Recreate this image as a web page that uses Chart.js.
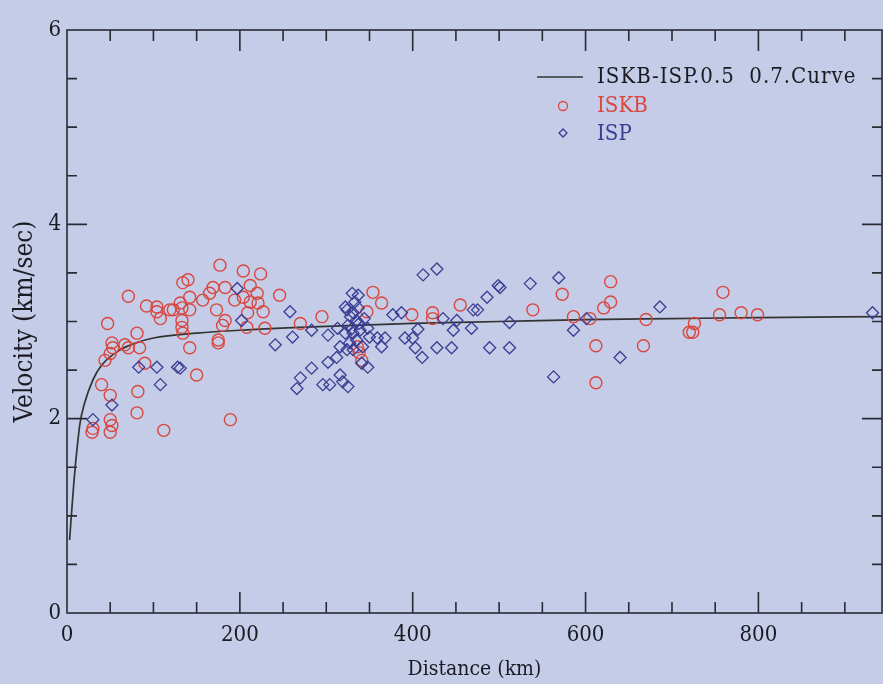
<!DOCTYPE html>
<html>
<head>
<meta charset="utf-8">
<script src="https://cdn.jsdelivr.net/npm/chart.js@4.4.0/dist/chart.umd.min.js"></script>
<style>
  html, body { margin: 0; padding: 0; background: #c5cce7; }
  #wrap { width: 883px; height: 684px; }
</style>
</head>
<body>
<div id="wrap"><canvas id="chart" width="883" height="684"></canvas></div>
<script>
// Velocity vs distance

// fitted curve (km, km/sec)
const curveDist = [3, 5, 8, 10, 15, 20, 30, 40, 60, 80, 100, 150, 200, 300, 400, 500, 600, 700, 800, 943];
const curveVel  = [0.75, 1.0, 1.35, 1.55, 1.95, 2.15, 2.4, 2.55, 2.7, 2.78, 2.83, 2.88, 2.91, 2.95, 2.98, 3.0, 3.02, 3.03, 3.04, 3.05];

// ISKB stations (red circles)
const iskbDist = [71, 47, 52, 53, 44, 50, 67, 81, 84, 90, 71, 40, 50, 82, 81, 50, 52, 30, 29, 50,
  112, 92, 104, 108, 104, 123, 177, 204, 224, 134, 140, 142, 131, 133, 133, 133, 134, 142, 142, 157,
  165, 169, 183, 173, 183, 180, 175, 175, 194, 204, 212, 212, 220, 209, 208, 227, 229, 246, 150, 189,
  119, 221, 270, 295, 354, 364, 347, 341, 336, 338, 399, 423, 423, 455, 539, 573, 586, 605, 629, 629,
  621, 612, 612, 670, 667, 720, 726, 724, 759, 755, 780, 799];
const iskbVel = [3.26, 2.98, 2.78, 2.73, 2.60, 2.67, 2.76, 2.88, 2.73, 2.57, 2.73, 2.35, 2.24, 2.28, 2.06, 1.99, 1.93, 1.90, 1.86, 1.86,
  1.88, 3.16, 3.15, 3.03, 3.10, 3.12, 3.58, 3.52, 3.49, 3.40, 3.43, 3.25, 3.19, 3.14, 3.01, 2.94, 2.88, 2.73, 3.12, 3.22,
  3.29, 3.35, 3.35, 3.12, 3.01, 2.96, 2.81, 2.78, 3.22, 3.25, 3.37, 3.20, 3.29, 3.09, 2.94, 3.10, 2.93, 3.27, 2.45, 1.99,
  3.12, 3.19, 2.98, 3.05, 3.30, 3.19, 3.10, 2.60, 2.74, 2.68, 3.07, 3.09, 3.03, 3.17, 3.12, 3.28, 3.05, 3.03, 3.41, 3.20,
  3.14, 2.75, 2.37, 3.02, 2.75, 2.89, 2.98, 2.89, 3.30, 3.07, 3.09, 3.07];

// ISP stations (blue diamonds)
const ispDist = [83, 104, 108, 128, 52, 30, 131, 197, 202, 241, 258, 261, 283, 283, 270, 266, 296, 304, 302, 302,
  312, 316, 319, 325, 330, 337, 324, 331, 335, 325, 322, 331, 335, 327, 331, 324, 339, 313, 316, 342,
  348, 350, 348, 341, 359, 337, 322, 368, 364, 377, 387, 391, 400, 406, 403, 411, 412, 428, 428, 445,
  447, 451, 470, 468, 486, 489, 499, 435, 475, 501, 536, 569, 512, 512, 586, 601, 640, 563, 686, 932,
  333, 328, 338, 329, 344];
const ispVel = [2.53, 2.53, 2.35, 2.53, 2.14, 1.99, 2.52, 3.34, 3.01, 2.76, 3.10, 2.84, 2.91, 2.52, 2.42, 2.31, 2.35, 2.35, 2.58, 2.86,
  2.63, 2.45, 2.38, 2.33, 3.29, 3.27, 3.12, 3.09, 3.01, 2.96, 2.88, 2.88, 2.81, 2.78, 2.71, 2.71, 2.91, 2.93, 2.74, 2.74,
  2.93, 2.84, 2.53, 2.57, 2.83, 3.14, 3.15, 2.83, 2.74, 3.07, 3.09, 2.83, 2.83, 2.92, 2.73, 2.63, 3.48, 3.54, 2.73, 2.73,
  2.91, 3.01, 3.12, 2.93, 3.25, 2.73, 3.37, 3.03, 3.12, 3.35, 3.39, 3.45, 2.73, 2.99, 2.91, 3.03, 2.63, 2.43, 3.15, 3.09,
  3.20, 3.05, 2.98, 2.92, 3.03];

const legendLabels = ['ISKB-ISP.0.5  0.7.Curve', 'ISKB', 'ISP'];

const bgColor = '#c5cce7';
const axisColor = '#2a2a34';
const redColor = '#d9473f';
const blueColor = '#3a3d94';
const textColor = '#1a1a22';
const fontFamily = '"DejaVu Serif Condensed", "DejaVu Serif", serif';

const toPoints = (xs, ys) => xs.map((x, i) => ({ x: x, y: ys[i] }));

// paper background
const backgroundPlugin = {
  id: 'paper',
  beforeDraw(chart) {
    const ctx = chart.ctx;
    ctx.save();
    ctx.fillStyle = bgColor;
    ctx.fillRect(0, 0, chart.width, chart.height);
    ctx.restore();
  }
};

// frame with inward ticks on all four sides, plus the legend box
const framePlugin = {
  id: 'frame',
  afterDraw(chart) {
    const ctx = chart.ctx;
    const area = chart.chartArea;
    const xs = chart.scales.x;
    const ys = chart.scales.y;
    ctx.save();
    ctx.strokeStyle = axisColor;
    ctx.lineWidth = 1.6;
    ctx.strokeRect(area.left, area.top, area.right - area.left, area.bottom - area.top);

    ctx.beginPath();
    for (let v = 50; v < xs.max; v += 50) {
      const px = xs.getPixelForValue(v);
      const len = v % 200 === 0 ? 21 : 11;
      ctx.moveTo(px, area.bottom); ctx.lineTo(px, area.bottom - len);
      ctx.moveTo(px, area.top); ctx.lineTo(px, area.top + len);
    }
    for (let v = 0.5; v < ys.max; v += 0.5) {
      const py = ys.getPixelForValue(v);
      const len = v % 2 === 0 ? 20 : 10;
      ctx.moveTo(area.left, py); ctx.lineTo(area.left + len, py);
      ctx.moveTo(area.right, py); ctx.lineTo(area.right - len, py);
    }
    ctx.stroke();

    // legend
    ctx.font = '22px ' + fontFamily;
    ctx.textBaseline = 'middle';
    ctx.textAlign = 'left';
    ctx.strokeStyle = '#333';
    ctx.lineWidth = 1.5;
    ctx.beginPath();
    ctx.moveTo(537, 77); ctx.lineTo(583, 77);
    ctx.stroke();
    ctx.fillStyle = textColor;
    ctx.letterSpacing = '1px';
    ctx.fillText(legendLabels[0], 597, 77);
    ctx.letterSpacing = '0px';

    ctx.strokeStyle = redColor;
    ctx.lineWidth = 1.3;
    ctx.beginPath();
    ctx.arc(563, 106, 4.5, 0, Math.PI * 2);
    ctx.stroke();
    ctx.fillStyle = redColor;
    ctx.fillText(legendLabels[1], 597, 106);

    ctx.strokeStyle = blueColor;
    ctx.beginPath();
    ctx.moveTo(563, 129); ctx.lineTo(567, 133); ctx.lineTo(563, 137); ctx.lineTo(559, 133); ctx.closePath();
    ctx.stroke();
    ctx.fillStyle = blueColor;
    ctx.fillText(legendLabels[2], 597, 134);
    ctx.restore();
  }
};

new Chart(document.getElementById('chart').getContext('2d'), {
  type: 'scatter',
  data: {
    datasets: [
      {
        label: legendLabels[0],
        type: 'line',
        data: toPoints(curveDist, curveVel),
        borderColor: '#333',
        borderWidth: 1.7,
        pointRadius: 0,
        cubicInterpolationMode: 'monotone',
        fill: false,
        order: 3
      },
      {
        label: legendLabels[1],
        data: toPoints(iskbDist, iskbVel),
        pointStyle: 'circle',
        pointRadius: 6,
        borderColor: redColor,
        borderWidth: 1.4,
        backgroundColor: 'rgba(0,0,0,0)',
        order: 2
      },
      {
        label: legendLabels[2],
        data: toPoints(ispDist, ispVel),
        pointStyle: 'rectRot',
        pointRadius: 6,
        borderColor: blueColor,
        borderWidth: 1.3,
        backgroundColor: 'rgba(0,0,0,0)',
        order: 1
      }
    ]
  },
  options: {
    responsive: false,
    animation: false,
    layout: { autoPadding: false, padding: { top: 30, right: 1, left: 0, bottom: 0 } },
    plugins: {
      legend: { display: false },
      tooltip: { enabled: false }
    },
    scales: {
      x: {
        type: 'linear',
        min: 0,
        max: 943,
        afterFit: scale => {
          scale.height = 71;
          scale.paddingRight = 0;
          scale.paddingLeft = 0;
        },
        grid: { display: false, drawTicks: false },
        border: { display: false },
        ticks: {
          stepSize: 50,
          includeBounds: false,
          autoSkip: false,
          maxRotation: 0,
          padding: 9,
          color: textColor,
          font: { family: fontFamily, size: 22 },
          callback: v => (v % 200 === 0 ? String(v) : '')
        },
        title: {
          display: true,
          text: 'Distance (km)',
          color: textColor,
          font: { family: fontFamily, size: 21 },
          padding: { top: 0, bottom: 2 }
        }
      },
      y: {
        type: 'linear',
        min: 0,
        max: 6,
        afterFit: scale => {
          scale.width = 67;
          scale.paddingTop = 0;
          scale.paddingBottom = 0;
        },
        grid: { display: false, drawTicks: false },
        border: { display: false },
        ticks: {
          stepSize: 0.5,
          autoSkip: false,
          padding: 6,
          color: textColor,
          font: { family: fontFamily, size: 22 },
          callback: v => (v % 2 === 0 ? String(v) : '')
        },
        title: {
          display: true,
          text: 'Velocity (km/sec)',
          color: textColor,
          font: { family: fontFamily, size: 26 },
          padding: { top: 10, bottom: 0 }
        }
      }
    }
  },
  plugins: [backgroundPlugin, framePlugin]
});
</script>
</body>
</html>
